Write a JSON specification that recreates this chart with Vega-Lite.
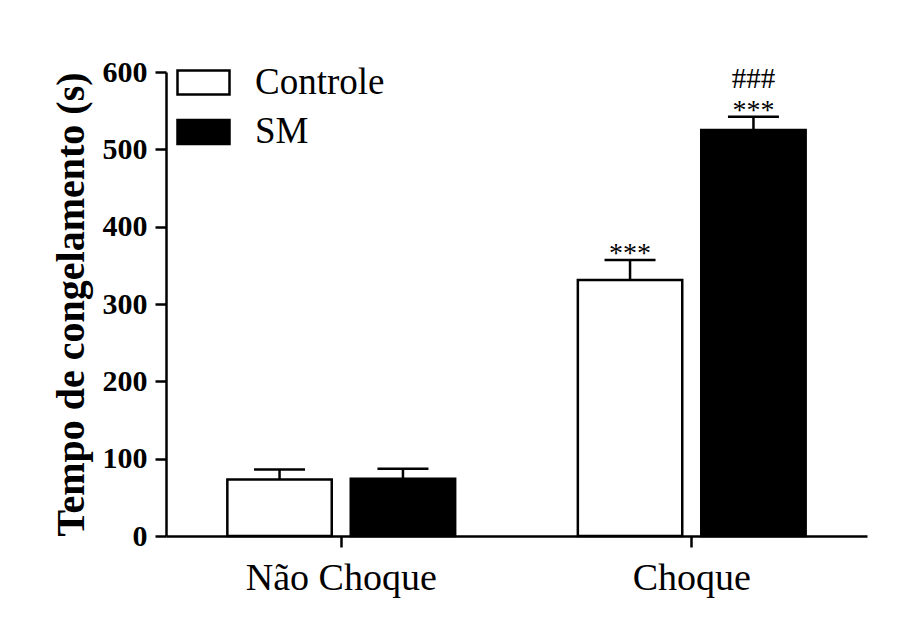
{
  "$schema": "https://vega.github.io/schema/vega-lite/v6.json",
  "width": 701,
  "height": 464,
  "autosize": {"type": "none"},
  "padding": {"left": 166, "top": 72, "right": 40, "bottom": 98},
  "background": "white",
  "config": {"view": {"stroke": null}, "font": "Liberation Serif"},
  "data": {
    "values": [
      {"grupo": "Não Choque", "tratamento": "Controle", "media": 73, "erro": 86, "ast": "", "hash": ""},
      {"grupo": "Não Choque", "tratamento": "SM", "media": 74, "erro": 87, "ast": "", "hash": ""},
      {"grupo": "Choque", "tratamento": "Controle", "media": 331, "erro": 357, "ast": "***", "hash": ""},
      {"grupo": "Choque", "tratamento": "SM", "media": 525, "erro": 542, "ast": "***", "hash": "###"}
    ]
  },
  "encoding": {
    "x": {
      "field": "grupo", "type": "nominal", "sort": ["Não Choque", "Choque"],
      "scale": {"paddingInner": 0.35, "paddingOuter": 0.175},
      "axis": {
        "title": null, "labelAngle": 0, "labelFontSize": 38, "labelFont": "Liberation Serif",
        "labelColor": "black", "labelPadding": 12, "labelLimit": 0, "tickSize": 11, "tickWidth": 2.5,
        "tickColor": "black", "domainColor": "black", "domainWidth": 2.5
      }
    },
    "xOffset": {
      "field": "tratamento", "type": "nominal", "sort": ["Controle", "SM"],
      "scale": {"paddingInner": 0.154, "paddingOuter": 0}
    }
  },
  "layer": [
    {
      "mark": {"type": "bar", "stroke": "black", "strokeWidth": 2.5, "fillOpacity": 1},
      "encoding": {
        "y": {
          "field": "media", "type": "quantitative",
          "scale": {"domain": [0, 600], "nice": false},
          "title": "Tempo de congelamento (s)",
          "axis": {
            "values": [0, 100, 200, 300, 400, 500, 600], "grid": false,
            "labelFontSize": 30, "labelFontWeight": "bold", "labelFont": "Liberation Serif",
            "labelColor": "black", "labelPadding": 8, "labelFlush": false,
            "tickSize": 11, "tickWidth": 2.5, "tickColor": "black",
            "domainColor": "black", "domainWidth": 2.5,
            "titleFontSize": 40, "titleFontWeight": "bold", "titleFont": "Liberation Serif",
            "titleColor": "black", "titlePadding": 11
          }
        },
        "fill": {
          "field": "tratamento", "type": "nominal",
          "scale": {"domain": ["Controle", "SM"], "range": ["white", "black"]},
          "legend": {
            "title": null, "orient": "none", "legendX": 10, "legendY": -17, "padding": 0,
            "symbolType": "M-1,-0.46H1V0.46H-1Z", "symbolSize": 2704,
            "symbolStrokeColor": "black", "symbolStrokeWidth": 2.5,
            "labelFontSize": 37, "labelFont": "Liberation Serif", "labelColor": "black",
            "labelOffset": 24, "rowPadding": 3.5, "labelLimit": 0
          }
        }
      }
    },
    {
      "mark": {"type": "rule", "strokeWidth": 2.5, "color": "black"},
      "encoding": {
        "y": {"field": "media", "type": "quantitative", "title": "Tempo de congelamento (s)"},
        "y2": {"field": "erro"}
      }
    },
    {
      "mark": {"type": "tick", "orient": "horizontal", "size": 51, "thickness": 2.5, "color": "black", "opacity": 1},
      "encoding": {
        "y": {"field": "erro", "type": "quantitative", "title": "Tempo de congelamento (s)"}
      }
    },
    {
      "mark": {"type": "text", "fontSize": 28, "font": "Liberation Serif", "color": "black", "baseline": "alphabetic", "dy": 2},
      "encoding": {
        "y": {"field": "erro", "type": "quantitative", "title": "Tempo de congelamento (s)"},
        "text": {"field": "ast"}
      }
    },
    {
      "mark": {"type": "text", "fontSize": 29, "font": "Liberation Serif", "color": "black", "baseline": "alphabetic", "dy": -29},
      "encoding": {
        "y": {"field": "erro", "type": "quantitative", "title": "Tempo de congelamento (s)"},
        "text": {"field": "hash"}
      }
    }
  ]
}
